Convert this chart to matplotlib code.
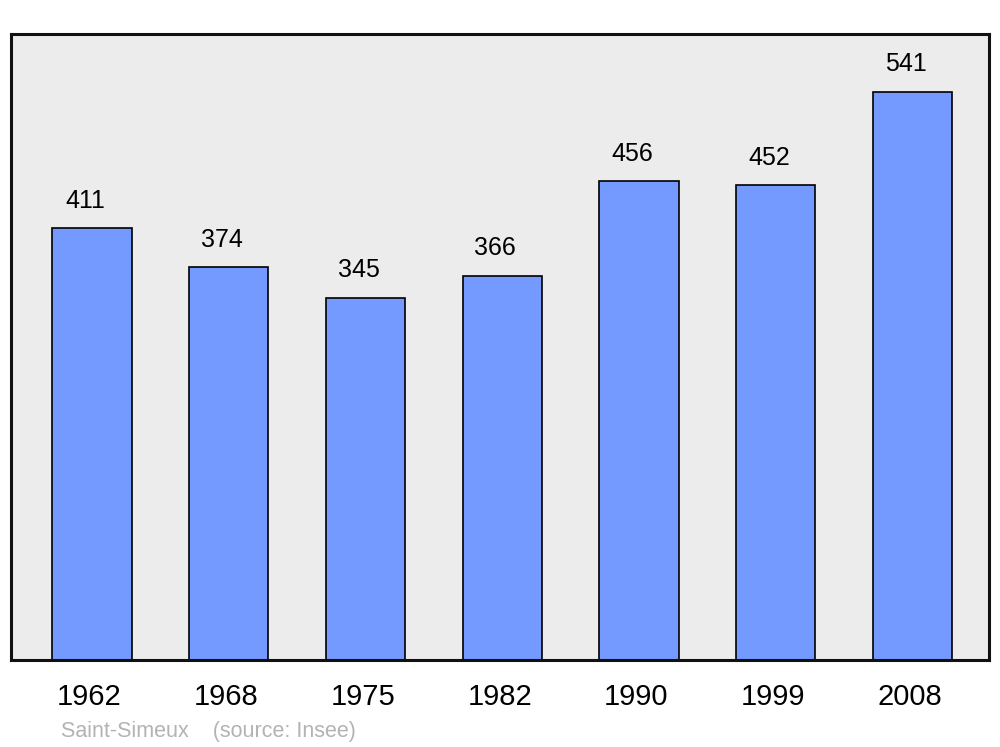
import matplotlib.pyplot as plt
from matplotlib.transforms import ScaledTranslation

plt.rcParams['font.family'] = ['Liberation Sans', 'DejaVu Sans']

years = ['1962', '1968', '1975', '1982', '1990', '1999', '2008']
population = [411, 374, 345, 366, 456, 452, 541]

fig = plt.figure(figsize=(10, 7.47), dpi=100)
ax = fig.add_axes([0.011, 0.1165, 0.978, 0.838])
ax.set_facecolor('#ececec')

x = list(range(len(years)))
bars = ax.bar(x, population, width=0.58, color='#7499ff', edgecolor='black', linewidth=1.2, zorder=2)

for bar, val in zip(bars, population):
    ax.annotate(str(val), (bar.get_x() + bar.get_width() / 2, bar.get_height()),
                xytext=(-5, 11), textcoords='offset points',
                ha='center', va='bottom', fontsize=18)

ax.set_xlim(-0.593, 6.56)
ax.set_ylim(0, 596)
ax.set_yticks([])
ax.set_xticks(x)
ax.set_xticklabels(years, fontsize=21)
ax.tick_params(axis='x', length=0, pad=16.5)
shift = ScaledTranslation(-0.025, 0, fig.dpi_scale_trans)
for lbl in ax.get_xticklabels():
    lbl.set_transform(lbl.get_transform() + shift)
for s in ax.spines.values():
    s.set_linewidth(2.2)
    s.set_color('#111111')

fig.text(0.061, 0.014, 'Saint-Simeux    (source: Insee)', fontsize=15.5, color='#b3b3b3')

fig.savefig('out.png', dpi=100)
